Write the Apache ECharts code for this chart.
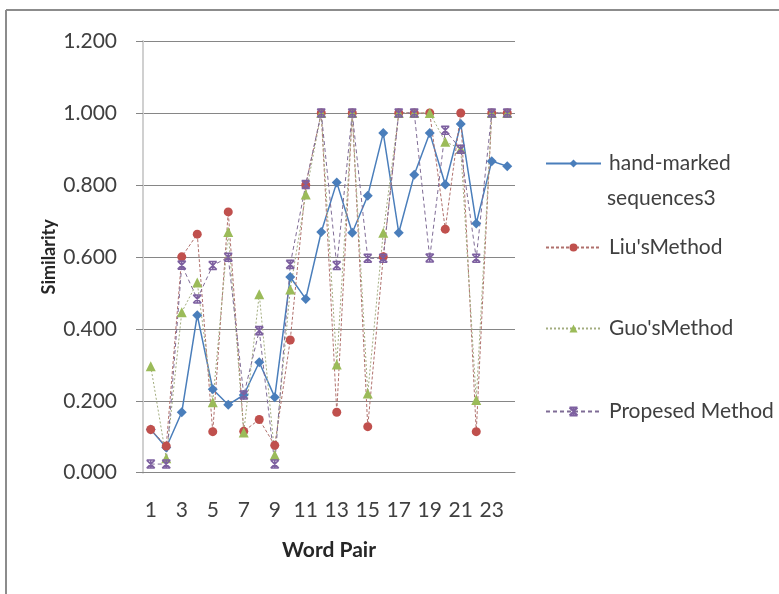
<!DOCTYPE html>
<html>
<head>
<meta charset="utf-8">
<script src="https://cdn.jsdelivr.net/npm/echarts@6/dist/echarts.min.js"></script>
<style>
  html, body { margin: 0; padding: 0; background: #ffffff; }
  #chart { width: 779px; height: 594px; }
</style>
</head>
<body>
<div id="chart"></div>
<script>
// Word pairs on the x axis
const wordPairs = ['1','2','3','4','5','6','7','8','9','10','11','12',
                   '13','14','15','16','17','18','19','20','21','22','23','24'];

// Similarity scores per method
const handMarked = [0.120, 0.070, 0.168, 0.438, 0.232, 0.189, 0.216, 0.307, 0.210, 0.544, 0.483, 0.669,
                    0.807, 0.667, 0.770, 0.944, 0.667, 0.828, 0.944, 0.801, 0.969, 0.693, 0.866, 0.852];
const liuMethod  = [0.120, 0.074, 0.600, 0.663, 0.114, 0.725, 0.115, 0.148, 0.076, 0.369, 0.800, 1.000,
                    0.168, 1.000, 0.128, 0.600, 1.000, 1.000, 1.000, 0.677, 1.000, 0.114, 1.000, 1.000];
const guoMethod  = [0.296, 0.040, 0.446, 0.529, 0.196, 0.669, 0.112, 0.496, 0.049, 0.509, 0.773, 1.000,
                    0.301, 1.000, 0.220, 0.667, 1.000, 1.000, 1.000, 0.920, 0.900, 0.202, 1.000, 1.000];
const proposed   = [0.024, 0.024, 0.577, 0.483, 0.576, 0.599, 0.216, 0.395, 0.024, 0.579, 0.801, 1.000,
                    0.576, 1.000, 0.596, 0.596, 1.000, 1.000, 0.597, 0.952, 0.899, 0.596, 1.000, 1.000];

// Y axis ticks
const yMin = 0, yMax = 1.2, yStep = 0.2;

const FONT = 'Lato, "Open Sans", sans-serif';
const TXT = '#404040';

// Excel-style "star" marker: an X with caps
const starPath = 'path://M0,0L10,0M0,10L10,10M0,0L10,10M10,0L0,10M5,0L5,10';

const names = ['hand-marked sequences3', "Liu'sMethod", "Guo'sMethod", 'Propesed Method'];

function legendAt(name, top) {
  return {
    data: [name],
    left: 545,
    top: top,
    orient: 'vertical',
    itemWidth: 55,
    itemHeight: 10,
    itemGap: 0,
    padding: 0,
    selectedMode: false,
    formatter: n => n === names[0] ? 'hand-marked' : n,
    textStyle: { fontFamily: FONT, fontSize: 21, color: TXT, padding: [0, 0, 0, 3] }
  };
}

const chart = echarts.init(document.getElementById('chart'), null, { renderer: 'canvas' });

chart.setOption({
  backgroundColor: '#ffffff',
  animation: false,
  grid: { left: 143, right: 264, top: 41, bottom: 121.3, containLabel: false },
  legend: [
    legendAt(names[0], 153),
    legendAt(names[1], 237),
    legendAt(names[2], 318),
    legendAt(names[3], 401)
  ],
  graphic: [
    { type: 'line', shape: { x1: 6, y1: 10, x2: 779, y2: 10 }, style: { stroke: '#8c8c8c', lineWidth: 2 } },
    { type: 'line', shape: { x1: 6, y1: 10, x2: 6, y2: 594 }, style: { stroke: '#8c8c8c', lineWidth: 2 } },
    { type: 'text', left: 607, top: 188,
      style: { text: 'sequences3', font: '21px ' + FONT, fill: TXT } }
  ],
  xAxis: {
    type: 'category',
    data: wordPairs,
    boundaryGap: true,
    name: 'Word Pair',
    nameLocation: 'middle',
    nameGap: 67,
    nameTextStyle: { fontFamily: FONT, fontSize: 21, fontWeight: 'bold', color: '#262626' },
    axisLine: { show: true, lineStyle: { color: '#868686', width: 1 } },
    axisTick: { show: false },
    axisLabel: { interval: 1, margin: 27, fontFamily: FONT, fontSize: 21, color: TXT }
  },
  yAxis: {
    type: 'value',
    min: yMin,
    max: yMax,
    interval: yStep,
    name: 'Similarity',
    nameLocation: 'middle',
    nameGap: 85,
    nameTextStyle: { fontFamily: FONT, fontSize: 18, fontWeight: 'bold', color: '#262626' },
    axisLine: { show: true, lineStyle: { color: '#d0d0d0', width: 2 } },
    axisTick: { show: true, inside: false, length: 7, lineStyle: { color: '#868686' } },
    axisLabel: { margin: 26, fontFamily: FONT, fontSize: 21, color: TXT,
                 formatter: v => v.toFixed(3) },
    splitLine: { show: true, lineStyle: { color: '#868686', width: 1 } }
  },
  series: [
    {
      name: names[0], type: 'line', data: handMarked,
      symbol: 'diamond', symbolSize: 10,
      lineStyle: { color: '#4a7ebb', width: 1.5, type: 'solid' },
      itemStyle: { color: '#4a7ebb' }
    },
    {
      name: names[1], type: 'line', data: liuMethod,
      symbol: 'circle', symbolSize: 9,
      lineStyle: { color: '#b0706c', width: 1, type: [3, 2] },
      itemStyle: { color: '#c0504d' }
    },
    {
      name: names[2], type: 'line', data: guoMethod,
      symbol: 'triangle', symbolSize: 10,
      lineStyle: { color: '#a3ad80', width: 1, type: [2, 2] },
      itemStyle: { color: '#9bbb59' }
    },
    {
      name: names[3], type: 'line', data: proposed,
      symbol: starPath, symbolSize: 8,
      lineStyle: { color: '#7f6c96', width: 1, type: [4, 3] },
      itemStyle: { color: 'rgba(0,0,0,0)', borderColor: '#7d60a0', borderWidth: 1.6 }
    }
  ]
});
</script>
</body>
</html>
